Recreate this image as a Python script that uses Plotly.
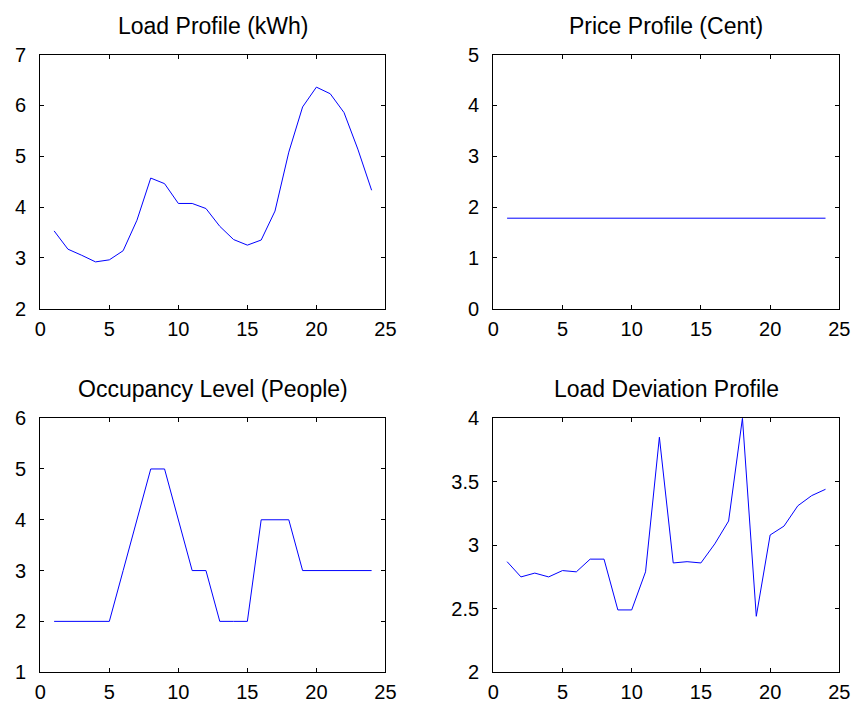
import plotly.graph_objects as go

# Hourly time steps
hours = list(range(1, 25))

# Series values
load_kwh = [3.53, 3.17, 3.05, 2.92, 2.96, 3.14, 3.74, 4.57, 4.46, 4.07, 4.07, 3.97,
            3.62, 3.36, 3.25, 3.35, 3.92, 5.08, 5.97, 6.36, 6.23, 5.86, 5.14, 4.33]
price_cent = [1.78] * 24
occupancy = [2, 2, 2, 2, 2, 3, 4, 5, 5, 4, 3, 3, 2, 2, 2, 4, 4, 4, 3, 3, 3, 3, 3, 3]
load_deviation = [2.87, 2.75, 2.78, 2.75, 2.80, 2.79, 2.89, 2.89, 2.49, 2.49, 2.79, 3.85,
                  2.86, 2.87, 2.86, 3.01, 3.19, 4.00, 2.44, 3.08, 3.15, 3.31, 3.39, 3.44]

titles = ["Load Profile (kWh)", "Price Profile (Cent)",
          "Occupancy Level (People)", "Load Deviation Profile"]
x_ticks = [0, 5, 10, 15, 20, 25]
y_ranges = [[2, 7], [0, 5], [1, 6], [2, 4]]
y_ticks = [[2, 3, 4, 5, 6, 7], [0, 1, 2, 3, 4, 5], [1, 2, 3, 4, 5, 6],
           [2, 2.5, 3, 3.5, 4]]
series = [load_kwh, price_cent, occupancy, load_deviation]

W, H = 868, 720
# panel boxes in pixels: left, right, top, bottom
boxes = [(35, 387, 45, 307), (497, 850, 45, 307),
         (35, 387, 420, 682), (497, 850, 420, 682)]

FONT = "Liberation Sans, Arial, sans-serif"
fig = go.Figure()
layout = dict(
    width=W, height=H,
    margin=dict(l=0, r=0, t=0, b=0),
    paper_bgcolor="white", plot_bgcolor="white",
    showlegend=False,
    font=dict(family=FONT, size=20, color="black"),
    annotations=[],
)

for i, (vals, title, yr, yt, box) in enumerate(zip(series, titles, y_ranges, y_ticks, boxes)):
    n = "" if i == 0 else str(i + 1)
    xa, ya = "x" + n, "y" + n
    fig.add_trace(go.Scatter(x=hours, y=vals, mode="lines",
                             line=dict(color="#0000ff", width=1),
                             xaxis=xa, yaxis=ya, hoverinfo="skip"))
    l, r, t, b = box
    xdom = [l / W, r / W]
    ydom = [1 - b / H, 1 - t / H]
    axis_common = dict(showgrid=False, zeroline=False, showline=True,
                       linecolor="black", linewidth=1.2, mirror="ticks",
                       ticks="inside", ticklen=4, tickwidth=1.2, tickcolor="black",
                       tickfont=dict(family=FONT, size=20, color="black"))
    layout["xaxis" + n] = dict(axis_common, domain=xdom, range=[0, 25],
                               tickvals=x_ticks, anchor=ya,
                               ticklabelstandoff=2)
    layout["yaxis" + n] = dict(axis_common, domain=ydom, range=yr,
                               tickvals=yt, anchor=xa,
                               ticklabelstandoff=9)
    layout["annotations"].append(dict(
        text=title, xref="paper", yref="paper",
        x=(xdom[0] + xdom[1]) / 2, y=ydom[1],
        xanchor="center", yanchor="bottom", yshift=14, showarrow=False,
        font=dict(family=FONT, size=23, color="black")))

fig.update_layout(**layout)
fig.write_html("out.html")
